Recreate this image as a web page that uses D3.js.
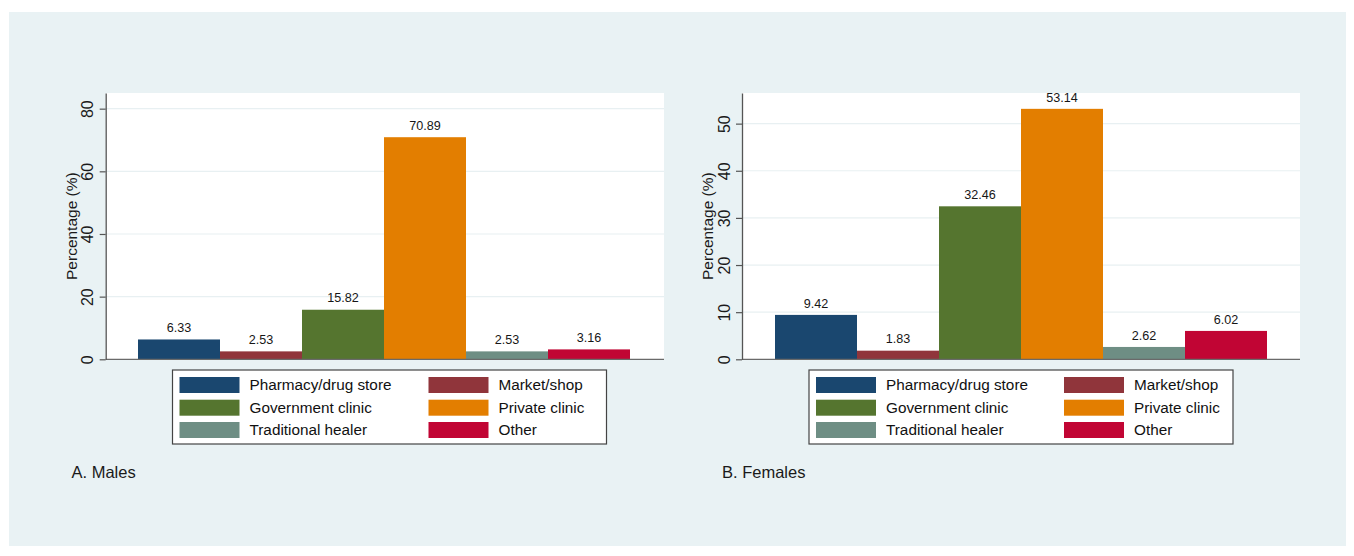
<!DOCTYPE html>
<html>
<head>
<meta charset="utf-8">
<script src="https://cdn.jsdelivr.net/npm/d3@7"></script>
<style>
  html, body { margin: 0; padding: 0; background: #ffffff; }
  svg { display: block; font-family: "Liberation Sans", Arial, Helvetica, sans-serif; }
</style>
</head>
<body>
<svg id="chart" width="1354" height="556"></svg>
<script>
// ---- data ----
const categories = ["Pharmacy/drug store", "Market/shop", "Government clinic", "Private clinic", "Traditional healer", "Other"];
const malesValues = [6.33, 2.53, 15.82, 70.89, 2.53, 3.16];
const femalesValues = [9.42, 1.83, 32.46, 53.14, 2.62, 6.02];
const barColors = ["#1a476f", "#90353b", "#55752f", "#e37e00", "#6e8e84", "#c10534"];
const malesTicks = [0, 20, 40, 60, 80];
const femalesTicks = [0, 10, 20, 30, 40, 50];
const panelTitles = ["A. Males", "B. Females"];
const yTitle = "Percentage (%)";
// legend order: rows of two
const legendOrder = [0, 1, 2, 3, 4, 5];

const svg = d3.select("#chart");

// background region
svg.append("rect").attr("x", 9).attr("y", 12).attr("width", 1337).attr("height", 534).attr("fill", "#e9f2f4");

const panels = [
  { values: malesValues, ticks: malesTicks, yMax: 85, title: panelTitles[0],
    axisX: 105.7, plotRight: 664, barL: 138, barR: 630, tickLblOff: 12.4, titleX: 77,
    legX: 172.5, legW: 434, swX: 179.5, col2: 249, titleTx: 71.5 },
  { values: femalesValues, ticks: femalesTicks, yMax: 56.5, title: panelTitles[1],
    axisX: 742, plotRight: 1300, barL: 775, barR: 1267, tickLblOff: 12, titleX: 713,
    legX: 809, legW: 424, swX: 816, col2: 248, titleTx: 722 }
];

const plotTop = 93, plotBottom = 359.3;

panels.forEach(p => {
  const g = svg.append("g");
  // plot region
  g.append("rect").attr("x", p.axisX).attr("y", plotTop).attr("width", p.plotRight - p.axisX)
    .attr("height", plotBottom - plotTop).attr("fill", "#ffffff");

  const x = d3.scaleBand().domain(categories).range([p.barL, p.barR]).paddingInner(0).paddingOuter(0);
  const y = d3.scaleLinear().domain([0, p.yMax]).range([plotBottom, plotTop]);

  // gridlines
  g.selectAll("line.grid").data(p.ticks.filter(t => t !== 0)).enter().append("line")
    .attr("class", "grid")
    .attr("x1", p.axisX).attr("x2", p.plotRight)
    .attr("y1", d => y(d)).attr("y2", d => y(d))
    .attr("stroke", "#e8f0f2").attr("stroke-width", 1.2);

  // bars
  g.selectAll("rect.bar").data(categories).enter().append("rect")
    .attr("class", "bar")
    .attr("x", d => x(d)).attr("width", x.bandwidth())
    .attr("y", (d, i) => y(p.values[i]))
    .attr("height", (d, i) => plotBottom - y(p.values[i]))
    .attr("fill", (d, i) => barColors[i]);

  // value labels
  g.selectAll("text.val").data(categories).enter().append("text")
    .attr("class", "val")
    .attr("x", d => x(d) + x.bandwidth() / 2)
    .attr("y", (d, i) => y(p.values[i]) - 7.3)
    .attr("text-anchor", "middle").attr("font-size", 12.6).attr("fill", "#161616")
    .text((d, i) => p.values[i].toFixed(2));

  // x baseline
  g.append("line").attr("x1", p.axisX).attr("x2", p.plotRight)
    .attr("y1", plotBottom).attr("y2", plotBottom)
    .attr("stroke", "#6a6a6a").attr("stroke-width", 1.3);

  // y axis
  const ax = g.append("g").attr("transform", `translate(${p.axisX},0)`)
    .call(d3.axisLeft(y).tickValues(p.ticks).tickSize(6).tickSizeOuter(0).tickFormat(d3.format("d")));
  ax.select(".domain").attr("stroke", "#555").attr("stroke-width", 1.3);
  ax.selectAll(".tick line").attr("stroke", "#555").attr("stroke-width", 1.2);
  ax.selectAll(".tick text")
    .attr("transform", "rotate(-90)")
    .attr("x", 0).attr("y", -p.tickLblOff).attr("dy", 0)
    .attr("text-anchor", "middle")
    .attr("font-size", 16).attr("fill", "#1a1a1a")
    .attr("font-family", "Liberation Sans, Arial, sans-serif");

  // y title
  g.append("text")
    .attr("transform", `translate(${p.titleX},${(plotTop + plotBottom) / 2}) rotate(-90)`)
    .attr("text-anchor", "middle").attr("font-size", 15.5).attr("fill", "#1a1a1a")
    .text(yTitle);

  // legend
  const legTop = 370, legH = 74;
  g.append("rect").attr("x", p.legX).attr("y", legTop).attr("width", p.legW).attr("height", legH)
    .attr("fill", "#ffffff").attr("stroke", "#444").attr("stroke-width", 1.2);
  const rowY = [385, 407.7, 430];
  legendOrder.forEach((ci, k) => {
    const row = Math.floor(k / 2), col = k % 2;
    const sx = p.swX + col * p.col2;
    g.append("rect").attr("x", sx).attr("y", rowY[row] - 8).attr("width", 60).attr("height", 16)
      .attr("fill", barColors[ci]);
    g.append("text").attr("x", sx + 70).attr("y", rowY[row] + 5.3)
      .attr("font-size", 15.3).attr("fill", "#111").text(categories[ci]);
  });

  // panel caption
  g.append("text").attr("x", p.titleTx).attr("y", 478).attr("font-size", 16.5).attr("fill", "#1a1a1a")
    .text(p.title);
});
</script>
</body>
</html>
